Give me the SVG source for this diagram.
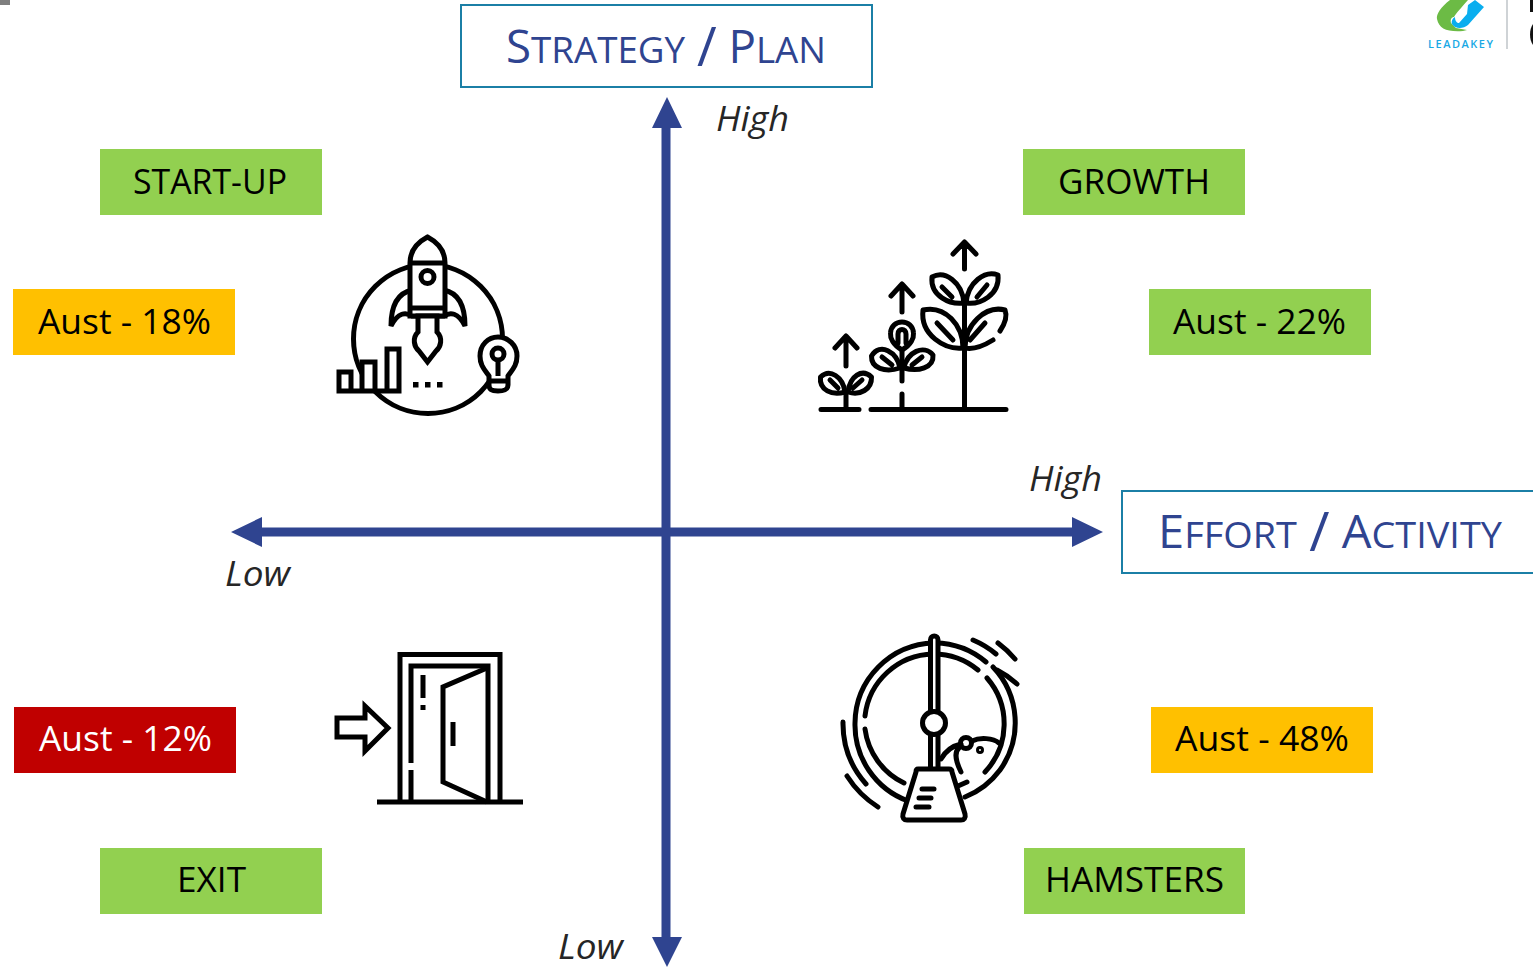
<svg xmlns="http://www.w3.org/2000/svg" width="1533" height="969" viewBox="0 0 1533 969">
<style>
text{font-family:"Open Sans","Noto Sans","DejaVu Sans",sans-serif}
.lb{font-size:34px;fill:#000}
.wt{fill:#fff}
.ax{font-size:34px;font-style:italic;fill:#262626}
.ti{fill:#2F4490;font-size:46px}
.ti tspan.s{font-size:37px}
.ti tspan.v{font-size:54px}
.box{fill:#fff;stroke:#1B7FA6;stroke-width:2}
.g{fill:#92D050}.y{fill:#FFC000}.r{fill:#C00000}
.ic{fill:none;stroke:#000;stroke-width:5}
.icw{fill:#fff;stroke:#000;stroke-width:5}
.rd{stroke-linecap:round;stroke-linejoin:round}
.axis{fill:#2F4490}
</style>
<rect width="1533" height="969" fill="#fff"/>
<rect x="0" y="0" width="10" height="5" fill="#7f7f7f"/>

<g id="logo">
<path d="M1450 0C1441 7 1436 14 1437 19C1439 29 1447 32 1463 31L1467 30L1456 28L1451 23C1450 19 1452 17 1454 17C1456 13 1462 7 1468 0Z" fill="#6CBB45"/>
<path d="M1468 5L1475 0L1484 7L1468 25C1463 29 1455 29 1452 24C1451 21 1453 18 1455 17C1455 21 1457 23 1459 23L1467 14Z" fill="#0AAEEF"/>
<text x="1428" y="48" font-size="11" font-weight="600" textLength="65" lengthAdjust="spacing" fill="#19A9E5">LEADAKEY</text>
<rect x="1506" y="0" width="2" height="49" fill="#cfd3d6"/>
<rect x="1530" y="0" width="3" height="12" fill="#111"/>
<path d="M1533 24C1529 29 1529 40 1533 45Z" fill="#111"/>
</g>

<g id="connectors">
<path class="axis" d="M661.500 128H652L667 97L682 128H670.500V527.500H1072V517L1103 532L1072 547V536.500H670.500V937H682L667 967L652 937H661.500V536.500H262V547L231 532L262 517V527.500H661.500Z"/>
</g>

<g id="strategy"><rect class="box" x="461" y="5" width="411" height="82"/><text class="ti" x="506" y="63" textLength="320" lengthAdjust="spacingAndGlyphs">S<tspan class="s">TRATEGY</tspan> <tspan class="v" dy="3">/</tspan> <tspan dy="-3">P</tspan><tspan class="s">LAN</tspan></text></g>
<g id="effort"><rect class="box" x="1122" y="491" width="420" height="82"/><text class="ti" x="1158" y="548" textLength="344" lengthAdjust="spacingAndGlyphs">E<tspan class="s">FFORT</tspan> <tspan class="v" dy="3">/</tspan> <tspan dy="-3">A</tspan><tspan class="s">CTIVITY</tspan></text></g>

<g id="high-y"><text class="ax" x="716" y="131" textLength="73" lengthAdjust="spacingAndGlyphs">High</text></g>
<g id="low-y"><text class="ax" x="558" y="959" textLength="65" lengthAdjust="spacingAndGlyphs">Low</text></g>
<g id="high-x"><text class="ax" x="1029" y="491" textLength="73" lengthAdjust="spacingAndGlyphs">High</text></g>
<g id="low-x"><text class="ax" x="225" y="586" textLength="65" lengthAdjust="spacingAndGlyphs">Low</text></g>

<g id="startup"><rect class="g" x="100" y="149" width="222" height="66"/><text class="lb" x="133" y="194" textLength="154" lengthAdjust="spacingAndGlyphs">START-UP</text></g>
<g id="growth"><rect class="g" x="1023" y="149" width="222" height="66"/><text class="lb" x="1058" y="194" textLength="152" lengthAdjust="spacingAndGlyphs">GROWTH</text></g>
<g id="exit"><rect class="g" x="100" y="848" width="222" height="66"/><text class="lb" x="177" y="892" textLength="69" lengthAdjust="spacingAndGlyphs">EXIT</text></g>
<g id="hamsters"><rect class="g" x="1024" y="848" width="221" height="66"/><text class="lb" x="1045" y="892" textLength="179" lengthAdjust="spacingAndGlyphs">HAMSTERS</text></g>
<g id="aust18"><rect class="y" x="13" y="289" width="222" height="66"/><text class="lb" x="38" y="334" textLength="173" lengthAdjust="spacingAndGlyphs">Aust - 18%</text></g>
<g id="aust22"><rect class="g" x="1149" y="289" width="222" height="66"/><text class="lb" x="1173" y="334" textLength="173" lengthAdjust="spacingAndGlyphs">Aust - 22%</text></g>
<g id="aust12"><rect class="r" x="14" y="707" width="222" height="66"/><text class="lb wt" x="39" y="751" textLength="173" lengthAdjust="spacingAndGlyphs">Aust - 12%</text></g>
<g id="aust48"><rect class="y" x="1151" y="707" width="222" height="66"/><text class="lb" x="1175" y="751" textLength="174" lengthAdjust="spacingAndGlyphs">Aust - 48%</text></g>

<g id="icon-rocket">
<circle class="ic" cx="428" cy="339" r="74.500"/>
<path class="icw" d="M391 326C391 305 398 293 412 290L444 290C458 293 465 305 465 326C458 312 450 312 444 316H412C406 312 398 312 391 326Z"/>
<path class="icw" d="M410 263C410 250 418 242 427.500 237C437 242 445 250 445 263V316H410Z"/>
<path class="ic" d="M410 263H445M410 308H445"/>
<circle class="ic" cx="427.500" cy="277" r="6.500"/>
<path class="icw" d="M418 316H437V332C443 338 441 347 436 351L427.500 362L419 351C414 347 412 338 418 332Z"/>
<path class="icw" d="M339 391V372H351V391M362 391V362H375V391M387 391V349H399V391M336.500 391H401.500"/>
<path d="M413 382h5.500v5.500h-5.500zM425 382h5.500v5.500h-5.500zM437 382h5.500v5.500h-5.500z" fill="#000"/>
<path class="icw" d="M489 376C484 369 480 365 480 356C480 345 488 337 498 337C508 337 517 345 517 356C517 365 513 369 508 376V385C508 390 504 391 498 391C492 391 489 390 489 385Z"/>
<path class="ic" d="M489 381H508M498 376V361"/>
<circle class="ic" cx="498" cy="354" r="6"/>
</g>

<g id="icon-plants" class="ic rd">
<path d="M821 409.500H859M871 409.500H1006M964.500 409.500V305M902 409.500V394M902 381V350M846 409.500V392"/>
<path d="M964.500 269V243M953 254L964.500 242L976 254M902 312V285M891 296L902 284L913 296M846 366V337M835 348L846 336L857 348"/>
<path d="M964 303C950 305 930 296 932 277C945 270 962 282 964 303M942 287L952 297"/>
<path d="M966 303C980 305 1000 295 998 275C985 270 968 282 966 303M987 285L977 297"/>
<path d="M963 348C945 350 920 335 923 310C945 305 963 325 963 348M937 323L953 340"/>
<path d="M1000 331C1006 322 1007 315 1005 310C985 305 965 325 965 348C975 350 985 345 993 340M985 323L970 340"/>
<path d="M902 350C893 345 890 338 890.500 333C891 326 896 322 902 322C908 322 913 326 913.500 333C914 338 911 345 902 350ZM898 343V334C898 328 906 328 906 334V343"/>
<path d="M900 368C885 373 871 368 871.500 356C880 342 897 352 900 368M882 357L892 365"/>
<path d="M904 368C918 372 934 368 933 355C924 344 907 352 904 368M922 357L912 365"/>
<path d="M845 392C832 396 819 390 820.500 377C830 368 843 377 845 392M830 380L838 388"/>
<path d="M848 392C860 396 872 389 871.500 377C862 368 850 376 848 392M862 380L853 388"/>
</g>

<g id="icon-door" class="ic">
<path d="M400 802V654.500H500V802"/>
<path d="M411 763V666H488V802M411 770V802"/>
<path d="M487 668L443 687V782L487 802"/>
<path d="M423 675V698M423 705V710M453 722V746"/>
<path d="M337 718H365V706L388 728L365 751V737H337Z"/>
<path d="M377 802H523"/>
</g>

<g id="icon-wheel" class="ic rd">
<path d="M935 643A80 80 0 0 1 986 662M993 667A81 81 0 0 1 1000 770A81 81 0 0 1 965 797M908 801A81 81 0 0 1 855 723A81 81 0 0 1 934 643"/>
<path d="M933 654A70 70 0 0 1 978 670M987 678A70 70 0 0 1 985 772M967 782L958 786M904 783A70 70 0 0 1 865 729M865 716A70 70 0 0 1 933 654"/>
<path d="M973 640A90 90 0 0 1 996 654M998 643A100 100 0 0 1 1015 659M997 670A90 90 0 0 1 1017 684"/>
<path d="M843 722A91 91 0 0 0 866 784M847 776A101 101 0 0 0 878 807"/>
<rect x="930.500" y="636" width="7.500" height="140" rx="3.750" fill="#fff"/>
<circle cx="934" cy="723" r="11.500" fill="#fff"/>
<path d="M941 759C945 752 952 746 961 744M972 741C980 737 993 738 999 743M959 748C954 752 956 762 961 772"/>
<circle cx="966" cy="743" r="5.500"/>
<circle cx="980" cy="750" r="1.500"/>
<path d="M918 769H949C951 769 952 770 952 772L965 814C966 818 964 820 961 820H907C904 820 902 818 903 814L916 772C916 770 917 769 918 769Z" fill="#fff"/>
<path d="M922 789H934M919 798H931M916 807H929"/>
</g>
</svg>
